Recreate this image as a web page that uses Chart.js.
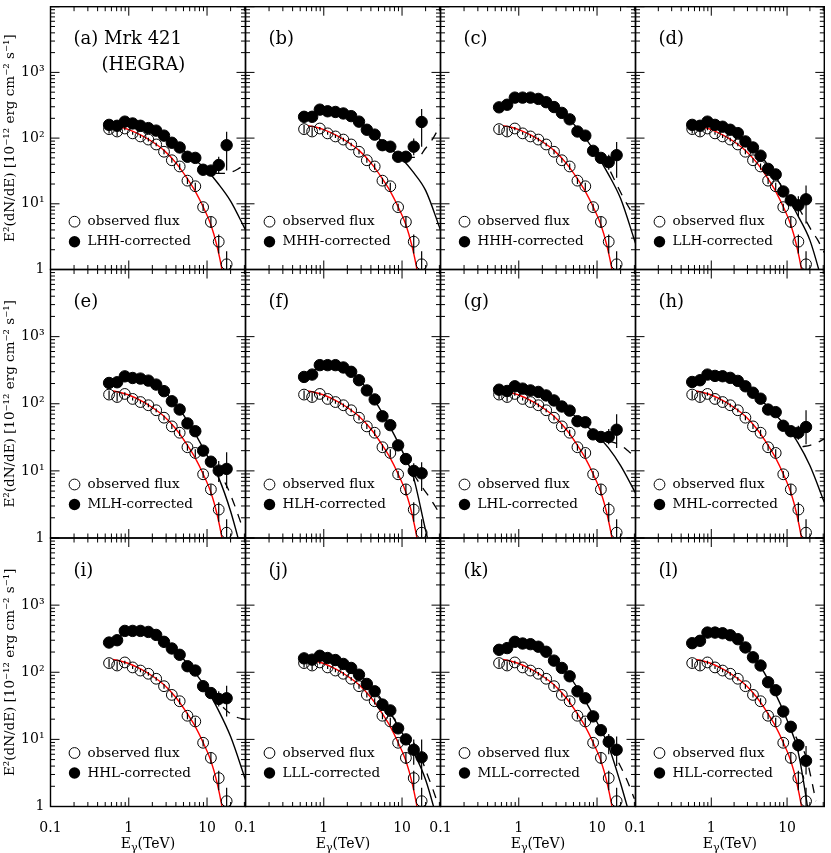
<!DOCTYPE html>
<html><head><meta charset="utf-8">
<script src="https://cdn.jsdelivr.net/npm/chart.js@4.4.0/dist/chart.umd.min.js"></script>
<style>
html,body{margin:0;padding:0;background:#fff;}
#wrap{position:relative;width:831px;height:853px;overflow:hidden;background:#fff;}
#wrap canvas{position:absolute;left:0;top:0;}
</style></head><body><div id="wrap"></div>
<script>
// ---------- DATA ----------
const energyTeV = [0.56, 0.71, 0.89, 1.12, 1.41, 1.78, 2.24, 2.82, 3.55, 4.47, 5.62, 7.08, 8.91, 11.2, 14.1, 17.8];
const observedFlux    = [137, 126, 140, 118, 106, 95, 80, 62, 46, 37, 22.5, 18.5, 8.9, 5.3, 2.65, 1.2];
const observedErrLow  = [118, 108, 132, 112, 100, 89, 75, 57, 42, 33, 20, 16, 7.8, 4.3, 1.75, 0.5];
const observedErrHigh = [158, 146, 148, 124, 112, 101, 85, 67, 50, 41, 25, 21, 10, 6.3, 3.4, 1.9];

const redCurveE    = [0.63, 0.8, 1, 1.41, 2, 2.82, 4, 5.62, 7.08, 8.91, 11.2, 13.5, 15.5, 17];
const redCurveFlux = [155, 146, 135, 112, 88, 65, 42, 24, 15.5, 9, 4.8, 2.2, 1, 0.5];

const models = ['LHH','MHH','HHH','LLH','MLH','HLH','LHL','MHL','HHL','LLL','MLL','HLL'];
const panelTags = ['(a) Mrk 421','(b)','(c)','(d)','(e)','(f)','(g)','(h)','(i)','(j)','(k)','(l)'];

const corrLHH = [159,154,178,167,154,142,130,109,85,72,52,50,33,32,39,78];
const corrMHH = [211,211,271,256,250,237,216,178,134,113,78,74,52,52,74,176];
const corrHHH = [294,322,413,413,413,395,352,297,242,193,126,109,64,50,43,55];
const corrLLH = [159,154,178,159,149,134,119,89,72,54,34,28,15.4,11.3,9.5,11.7];
const corrMLH = [204,209,256,242,237,221,193,154,109,82,51,39,20,13.7,10.1,10.7];
const corrHLH = [251,272,376,376,376,347,299,224,158,116,65,48,24,15,10,9.2];
const corrLHL = [162,155,182,168,158,150,133,112,91,79,55,53,35,32,32,41];
const corrMHL = [211,224,272,260,257,243,219,182,146,119,82,75,47,39,37,45];
const corrHHL = [277,300,413,413,413,399,360,284,226,182,123,106,62,49,40,41];
const corrLLL = [161,154,176,163,152,133,116,92,67,52,33,27,14.6,10,7,5.4];
const corrMLL = [216,229,284,268,262,240,202,149,116,87,52,41,22,13.7,9.2,7];
const corrHLL = [271,294,390,390,381,356,311,234,167,126,71,54,26,15.4,8.2,4.8];

// error bars [low, high] of the last three corrected points (11.2, 14.1, 17.8 TeV)
const errLHH = [[27,37],[29,52],[32,125]];
const errMHH = [[46,58],[55,99],[74,278]];
const errHHH = [[43,58],[33,56],[25,87]];
const errLLH = [[9.5,13.5],[6.5,13],[5,19]];
const errMLH = [[11.5,16],[6.8,14],[5.5,19]];
const errHLH = [[13,17.5],[7,13],[5,13.5]];
const errLHL = [[29,35],[25,42],[22,70]];
const errMHL = [[35,44],[29,47],[25,80]];
const errHHL = [[44,55],[31,52],[22,63]];
const errLLL = [[8.5,12],[4.2,10],[2.5,10]];
const errMLL = [[12,15.5],[6,12],[4,11]];
const errHLL = [[14,17],[6.5,10],[3,8]];

// solid black fitted curves of the corrected spectra
const curveE = [0.6, 1, 1.6, 2.5, 4, 6.3, 10, 14, 20, 31];
const fitLHH = [160,168,150,120,80,52,32,20,11,4];
const fitMHH = [212,262,245,196,125,78,48,30,16,4];
const fitHHH = [300,410,405,320,215,120,55,28,12,2.5];
const fitLLH = [160,170,145,106,63,32,13,6.5,2.8,0.5];
const fitMLH = [205,250,230,175,97,45,17,8,2.5,0.38];
const fitHLH = [255,375,360,265,137,57,20,8,1.3,0.18];
const fitLHL = [162,175,154,123,85,54,34,22,12,4.7];
const fitMHL = [212,266,250,200,132,78,44,26,12,3.4];
const fitHHL = [280,410,400,320,203,115,55,27,11,2.5];
const fitLLL = [162,170,145,106,62,31,12.5,6.5,2.5,0.42];
const fitMLL = [218,276,251,178,102,47,18,8,2.2,0.36];
const fitHLL = [275,388,370,275,147,61,19.5,6.5,0.6,0.03];

// dashed curves at the high-energy end  [E, flux]
const dashLHH = [[13,29],[16,29],[20,30],[25,34],[31,40]];
const dashMHH = [[11.2,51],[15.8,51],[20,70],[25,100],[31,160]];
const dashHHH = [[11.2,50],[14,35],[17.7,20],[22,12],[31,6]];
const dashLLH = [[14,9],[17.8,5.5],[22,3.6],[25,2.9],[31,1.8]];
const dashMLH = [[13,11],[17.8,6],[22,3.3],[28,1.5]];
const dashHLH = [[14,9],[17.5,6],[21,4.5],[25,3.3],[31,2.2]];
const dashLHL = [[14,28],[20,24],[26,19],[31,16]];
const dashMHL = [[16,23],[20,24],[26,27],[31,30]];
const dashHHL = [[16,30],[20,24],[25,21],[31,20]];
const dashLLL = [[14,9],[17,6],[20,3.5],[24,2],[28,1.2]];
const dashMLL = [[15,7.5],[18,5],[24,2.5],[30,1.3]];
const dashHLL = [[13,11],[17.8,5.5],[21,2.5],[24,1.2]];

const xMajorTicks = [0.1, 1, 10];
const yMajorTicks = [1, 10, 100, 1000, 10000];
const yTickText = {1:'1', 10:'10¹', 100:'10²', 1000:'10³'};
const xTickText = {'-1':'0.1', '0':'1', '1':'10'};

// ---------- LAYOUT ----------
const W = 831, H = 853;
const COL_LEFT = [50.5, 245.5, 440.5, 635.5], PANEL_W = 195;
const ROW_TOP = [1, 269.5, 538], PANEL_H = 268.5;
const X_MIN = 0.1, X_MAX = 31, Y_MIN = 1, Y_MAX = 10000;
const SERIF = '"DejaVu Serif", "Liberation Serif", serif';

const panels = [
  {corr:corrLHH, err:errLHH, fit:fitLHH, dash:dashLHH},
  {corr:corrMHH, err:errMHH, fit:fitMHH, dash:dashMHH},
  {corr:corrHHH, err:errHHH, fit:fitHHH, dash:dashHHH},
  {corr:corrLLH, err:errLLH, fit:fitLLH, dash:dashLLH},
  {corr:corrMLH, err:errMLH, fit:fitMLH, dash:dashMLH},
  {corr:corrHLH, err:errHLH, fit:fitHLH, dash:dashHLH},
  {corr:corrLHL, err:errLHL, fit:fitLHL, dash:dashLHL},
  {corr:corrMHL, err:errMHL, fit:fitMHL, dash:dashMHL},
  {corr:corrHHL, err:errHHL, fit:fitHHL, dash:dashHHL},
  {corr:corrLLL, err:errLLL, fit:fitLLL, dash:dashLLL},
  {corr:corrMLL, err:errMLL, fit:fitMLL, dash:dashMLL},
  {corr:corrHLL, err:errHLL, fit:fitHLL, dash:dashHLL}
];

function minorTicks(lo, hi) {
  const out = [];
  for (let d = lo; d < hi; d *= 10) for (let k = 2; k <= 9; k++) { const v = k * d; if (v < hi) out.push(v); }
  return out;
}
const xMinorTicks = minorTicks(0.1, X_MAX);
const yMinorTicks = minorTicks(1, Y_MAX);

const wrap = document.getElementById('wrap');

function makePanel(idx) {
  const p = panels[idx];
  const col = idx % 4, row = Math.floor(idx / 4);
  const L = COL_LEFT[col], T = ROW_TOP[row], B = T + PANEL_H, R = L + PANEL_W;
  const showY = col === 0, showX = row === 2;
  const canvas = document.createElement('canvas');
  canvas.width = W; canvas.height = H;
  canvas.style.width = W + 'px'; canvas.style.height = H + 'px';
  wrap.appendChild(canvas);

  const pts = (xs, ys) => xs.map((x, i) => ({x: x, y: ys[i]}));
  const corrErrLow = p.corr.map(() => null), corrErrHigh = p.corr.map(() => null);
  p.err.forEach((e, k) => { corrErrLow[13 + k] = e[0]; corrErrHigh[13 + k] = e[1]; });

  const datasets = [
    {label: models[idx] + '-corrected', data: pts(energyTeV, p.corr), showLine: false,
     pointRadius: 5.7, pointBackgroundColor: '#000', pointBorderColor: '#000', pointBorderWidth: 1,
     errLow: corrErrLow, errHigh: corrErrHigh},
    {label: 'observed flux', data: pts(energyTeV, observedFlux), showLine: false,
     pointRadius: 5.4, pointBackgroundColor: 'rgba(0,0,0,0)', pointBorderColor: '#000', pointBorderWidth: 1,
     errLow: observedErrLow, errHigh: observedErrHigh},
    {label: 'fit observed', data: pts(redCurveE, redCurveFlux), borderColor: '#ff0000', borderWidth: 1.4,
     pointRadius: 0, cubicInterpolationMode: 'monotone', fill: false},
    {label: 'fit corrected', data: pts(curveE, p.fit), borderColor: '#000', borderWidth: 1.4,
     pointRadius: 0, cubicInterpolationMode: 'monotone', fill: false},
    {label: 'extrapolation', data: p.dash.map(d => ({x: d[0], y: d[1]})), borderColor: '#000', borderWidth: 1.3,
     borderDash: [9, 8], pointRadius: 0, cubicInterpolationMode: 'monotone', fill: false}
  ];

  const decor = {
    id: 'decor' + idx,
    afterDatasetsDraw(chart) {
      const ctx = chart.ctx, xs = chart.scales.x, ys = chart.scales.y, ca = chart.chartArea;
      ctx.save();
      ctx.beginPath(); ctx.rect(ca.left, ca.top, ca.right - ca.left, ca.bottom - ca.top); ctx.clip();
      ctx.strokeStyle = '#000'; ctx.lineWidth = 1.2;
      chart.data.datasets.forEach(ds => {
        if (!ds.errLow) return;
        ds.data.forEach((pt, i) => {
          if (ds.errLow[i] == null) return;
          const px = xs.getPixelForValue(pt.x);
          ctx.beginPath();
          ctx.moveTo(px, ys.getPixelForValue(ds.errLow[i]));
          ctx.lineTo(px, ys.getPixelForValue(ds.errHigh[i]));
          ctx.stroke();
        });
      });
      ctx.restore();
    },
    afterDraw(chart) {
      const ctx = chart.ctx, xs = chart.scales.x, ys = chart.scales.y, ca = chart.chartArea;
      ctx.save();
      ctx.strokeStyle = '#000'; ctx.lineWidth = 1.4;
      ctx.strokeRect(ca.left, ca.top, ca.right - ca.left, ca.bottom - ca.top);
      ctx.lineWidth = 1;
      ctx.beginPath();
      const tickX = (v, len) => { const px = xs.getPixelForValue(v);
        ctx.moveTo(px, ca.bottom); ctx.lineTo(px, ca.bottom - len);
        ctx.moveTo(px, ca.top); ctx.lineTo(px, ca.top + len); };
      const tickY = (v, len) => { const py = ys.getPixelForValue(v);
        ctx.moveTo(ca.left, py); ctx.lineTo(ca.left + len, py);
        ctx.moveTo(ca.right, py); ctx.lineTo(ca.right - len, py); };
      xMajorTicks.forEach(v => tickX(v, 9));
      xMinorTicks.forEach(v => tickX(v, 4.5));
      yMajorTicks.forEach(v => tickY(v, 9));
      yMinorTicks.forEach(v => tickY(v, 4.5));
      ctx.stroke();

      // panel label
      ctx.fillStyle = '#000';
      ctx.textBaseline = 'middle'; ctx.textAlign = 'left';
      ctx.font = '18px ' + SERIF;
      ctx.fillText(panelTags[idx], ca.left + 23, ca.top + 33);
      if (idx === 0) ctx.fillText('(HEGRA)', ca.left + 51, ca.top + 59);

      // legend
      const lx = ca.left + 24, ly1 = ca.top + 215, ly2 = ca.top + 235;
      ctx.lineWidth = 1;
      ctx.beginPath(); ctx.arc(lx, ly1, 5.4, 0, 2 * Math.PI); ctx.stroke();
      ctx.beginPath(); ctx.arc(lx, ly2, 5.7, 0, 2 * Math.PI); ctx.fill();
      ctx.font = '13.5px ' + SERIF;
      ctx.fillText(chart.data.datasets[1].label, ca.left + 37, ly1);
      ctx.fillText(chart.data.datasets[0].label, ca.left + 37, ly2);

      // x axis title with subscript gamma
      if (showX) {
        const cx = (ca.left + ca.right) / 2, by = 844;
        ctx.font = '14px ' + SERIF;
        const wE = ctx.measureText('E').width, wT = ctx.measureText('(TeV)').width;
        ctx.font = '11px ' + SERIF;
        const wG = ctx.measureText('γ').width;
        let x0 = cx - (wE + wG + wT) / 2;
        ctx.font = '14px ' + SERIF; ctx.fillText('E', x0, by);
        ctx.font = '11px ' + SERIF; ctx.fillText('γ', x0 + wE, by + 4);
        ctx.font = '14px ' + SERIF; ctx.fillText('(TeV)', x0 + wE + wG, by);
      }
      ctx.restore();
    }
  };

  const xAxis = {type: 'logarithmic', min: X_MIN, max: X_MAX, display: showX,
    grid: {display: false, drawTicks: false}, border: {display: false},
    ticks: {autoSkip: false, maxRotation: 0, padding: 13, color: '#000',
            font: {family: SERIF, size: 14},
            callback: (v) => { const e = Math.log10(v); const r = Math.round(e);
              return (Math.abs(e - r) < 1e-6 && xTickText[r] !== undefined) ? xTickText[r] : ''; }}};
  if (showX) xAxis.afterFit = (s) => { s.height = H - B; s.paddingLeft = 0; s.paddingRight = 0; };

  const yAxis = {type: 'logarithmic', min: Y_MIN, max: Y_MAX, display: showY,
    grid: {display: false, drawTicks: false}, border: {display: false},
    ticks: {autoSkip: false, padding: 6, color: '#000', font: {family: SERIF, size: 14},
            callback: (v) => { const e = Math.log10(v); const r = Math.round(e);
              return (Math.abs(e - r) < 1e-6 && yTickText[Math.pow(10, r)] !== undefined) ? yTickText[Math.pow(10, r)] : ''; }},
    title: {display: true, text: 'E²(dN/dE) [10⁻¹² erg cm⁻² s⁻¹]', color: '#000',
            font: {family: SERIF, size: 13.5}, padding: {top: 2, bottom: 0}}};
  if (showY) yAxis.afterFit = (s) => { s.width = L; s.paddingTop = 0; s.paddingBottom = 0; };

  return new Chart(canvas, {
    type: 'line',
    data: {datasets: datasets},
    options: {
      responsive: false, animation: false, devicePixelRatio: 1, events: [],
      layout: {padding: {left: showY ? 0 : L, right: W - R, top: T, bottom: showX ? 0 : H - B}},
      plugins: {legend: {display: false}, tooltip: {enabled: false}},
      scales: {x: xAxis, y: yAxis}
    },
    plugins: [decor]
  });
}

for (let i = 0; i < 12; i++) makePanel(i);
</script>
</body></html>
